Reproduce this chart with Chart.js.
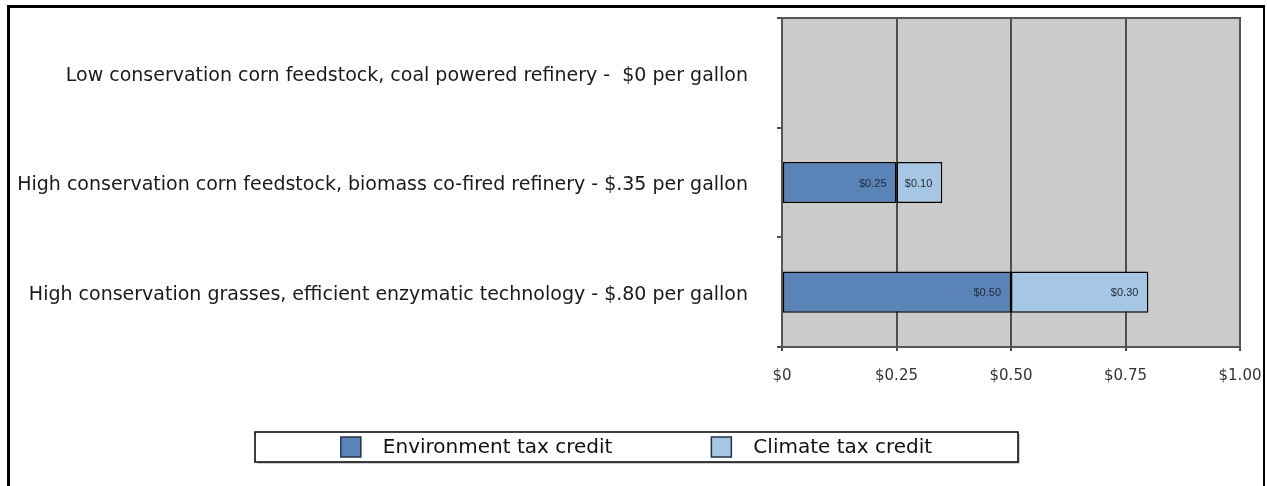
<!DOCTYPE html>
<html>
<head>
<meta charset="utf-8">
<script src="https://cdn.jsdelivr.net/npm/chart.js@4.4.1/dist/chart.umd.min.js"></script>
<style>
  html, body { margin: 0; padding: 0; background: #ffffff; }
  #wrap { width: 1267px; height: 486px; position: relative; }
</style>
</head>
<body>
<div id="wrap"><canvas id="c" width="1267" height="486"></canvas></div>
<script>
const categories = [
  "Low conservation corn feedstock, coal powered refinery -  $0 per gallon",
  "High conservation corn feedstock, biomass co-fired refinery - $.35 per gallon",
  "High conservation grasses, efficient enzymatic technology - $.80 per gallon"
];
const environmentCredit = [0, 0.25, 0.50];
const climateCredit = [0, 0.10, 0.30];
const xTickLabels = ["$0", "$0.25", "$0.50", "$0.75", "$1.00"];
const seriesNames = ["Environment tax credit", "Climate tax credit"];
const seriesColors = ["#5a84b8", "#a5c6e4"];

const FONT = '"DejaVu Sans", "Liberation Sans", Arial, sans-serif';

const frameAndBg = {
  id: 'frameAndBg',
  beforeDraw(chart) {
    const { ctx, chartArea: a } = chart;
    ctx.save();
    ctx.fillStyle = '#cbcbcb';
    ctx.fillRect(a.left, a.top, a.right - a.left, a.bottom - a.top);
    ctx.restore();
  },
  beforeDatasetsDraw(chart) {
    const { ctx, chartArea: a } = chart;
    ctx.save();
    ctx.strokeStyle = '#555555';
    ctx.lineWidth = 2;
    ctx.strokeRect(a.left, a.top, a.right - a.left, a.bottom - a.top);
    ctx.restore();
  },
  afterDraw(chart) {
    const { ctx } = chart;
    ctx.save();
    // outer frame
    ctx.fillStyle = '#000';
    ctx.fillRect(7, 5, 3, 481);
    ctx.fillRect(7, 5, 1258, 3);
    ctx.fillRect(1263, 5, 2, 481);

    // legend (custom drawn from dataset labels/colours)
    const ds = chart.data.datasets;
    const fontSize = 20, sq = 20, gapText = 22, gapItem = 99;
    ctx.font = fontSize + 'px ' + FONT;
    const widths = ds.map(d => sq + gapText + ctx.measureText(d.label).width);
    const total = widths.reduce((s, w) => s + w, 0) + gapItem * (ds.length - 1);
    const cx = chart.width / 2 + 3;
    const cy = 447;
    const bw = 763, bh = 30;
    ctx.fillStyle = 'rgba(0,0,0,0.18)';
    ctx.fillRect(cx - bw / 2 + 2, cy - bh / 2 + 2, bw, bh);
    ctx.fillStyle = '#fff';
    ctx.fillRect(cx - bw / 2, cy - bh / 2, bw, bh);
    ctx.strokeStyle = '#000';
    ctx.lineWidth = 1.5;
    ctx.strokeRect(cx - bw / 2, cy - bh / 2, bw, bh);
    let x = cx - total / 2;
    ctx.textAlign = 'left';
    ctx.textBaseline = 'middle';
    ds.forEach((d, i) => {
      ctx.fillStyle = d.backgroundColor;
      ctx.fillRect(x, cy - sq / 2, sq, sq);
      ctx.strokeStyle = '#253346';
      ctx.lineWidth = 1.5;
      ctx.strokeRect(x, cy - sq / 2, sq, sq);
      ctx.fillStyle = '#111';
      ctx.fillText(d.label, x + sq + gapText, cy + 1);
      x += widths[i] + gapItem;
    });
    ctx.restore();
  }
};

const valueLabels = {
  id: 'valueLabels',
  afterDatasetsDraw(chart) {
    const { ctx } = chart;
    ctx.save();
    ctx.font = '11px "Liberation Sans", Arial, sans-serif';
    ctx.fillStyle = '#1f2936';
    ctx.textAlign = 'right';
    ctx.textBaseline = 'middle';
    chart.data.datasets.forEach((ds, di) => {
      const meta = chart.getDatasetMeta(di);
      meta.data.forEach((bar, i) => {
        const v = ds.data[i];
        if (!v) return;
        const txt = '$' + v.toFixed(2);
        ctx.fillText(txt, bar.x - 10, bar.y + 1);
      });
    });
    ctx.restore();
  }
};

new Chart(document.getElementById('c'), {
  type: 'bar',
  data: {
    labels: categories,
    datasets: [
      {
        label: seriesNames[0],
        data: environmentCredit,
        backgroundColor: seriesColors[0],
        borderColor: '#000000',
        borderWidth: 1.5,
        borderSkipped: false
      },
      {
        label: seriesNames[1],
        data: climateCredit,
        backgroundColor: seriesColors[1],
        borderColor: '#000000',
        borderWidth: 1.5,
        borderSkipped: false
      }
    ]
  },
  options: {
    indexAxis: 'y',
    responsive: false,
    animation: false,
    devicePixelRatio: 1,
    categoryPercentage: 1,
    barPercentage: 0.375,
    layout: { padding: { top: 18, right: 27, bottom: 99, left: 0 } },
    plugins: {
      legend: { display: false },
      tooltip: { enabled: false }
    },
    scales: {
      x: {
        stacked: true,
        min: 0,
        max: 1,
        afterFit(scale) { scale.height = 40; scale.paddingLeft = 0; scale.paddingRight = 0; },
        ticks: {
          stepSize: 0.25,
          color: '#333',
          font: { family: FONT, size: 15 },
          padding: 16,
          callback: (v, i) => xTickLabels[i]
        },
        grid: { color: '#4d4d4d', lineWidth: 2, tickLength: 4, drawTicks: true },
        border: { color: '#4d4d4d', width: 2 }
      },
      y: {
        stacked: true,
        afterFit(scale) { scale.width = 782; scale.paddingTop = 0; scale.paddingBottom = 0; },
        ticks: {
          color: '#1a1a1a',
          font: { family: FONT, size: 19 },
          padding: 29,
          labelOffset: 3
        },
        grid: { drawOnChartArea: false, drawTicks: true, tickLength: 5, color: '#4d4d4d', lineWidth: 2 },
        border: { color: '#4d4d4d', width: 2 }
      }
    }
  },
  plugins: [frameAndBg, valueLabels]
});
</script>
</body>
</html>
